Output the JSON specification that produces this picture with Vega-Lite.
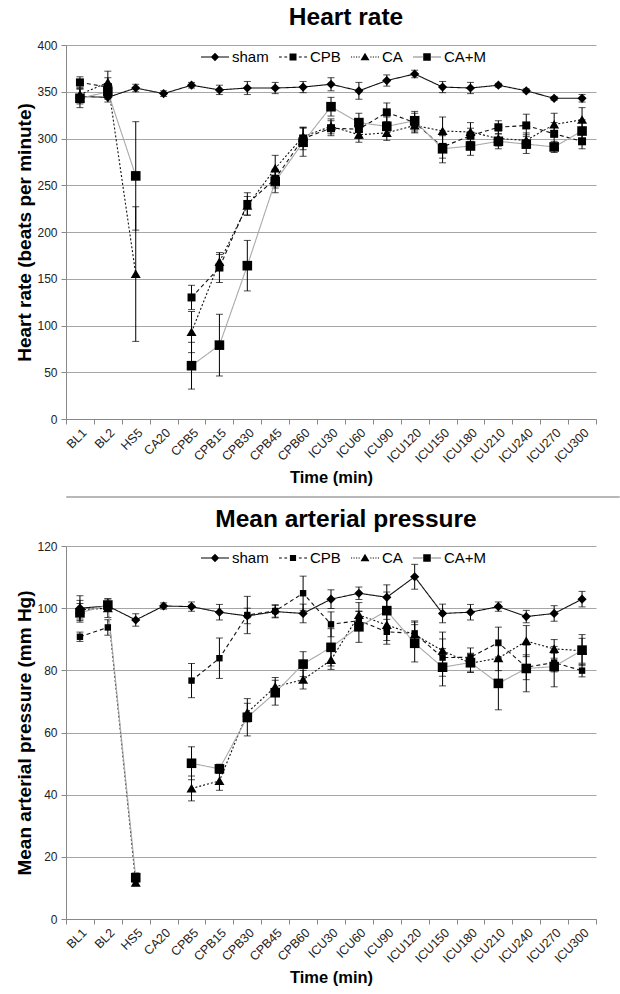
{
  "$schema": "https://vega.github.io/schema/vega-lite/v6.json",
  "background": "white",
  "padding": {"left": 15, "top": 4, "right": 0, "bottom": 0},
  "config": {
    "font": "Liberation Sans",
    "view": {"stroke": null},
    "axis": {"labelFont": "Liberation Sans", "titleFont": "Liberation Sans"},
    "legend": {"labelFont": "Liberation Sans"},
    "title": {"font": "Liberation Sans"}
  },
  "datasets": {
    "d": [
      {"p":"HR","s":"sham","g":"1","t":"BL1","v":345,"e":8},
      {"p":"HR","s":"sham","g":"1","t":"BL2","v":344,"e":5},
      {"p":"HR","s":"sham","g":"1","t":"HS5","v":354,"e":4},
      {"p":"HR","s":"sham","g":"1","t":"CA20","v":348,"e":3},
      {"p":"HR","s":"sham","g":"1","t":"CPB5","v":357,"e":3},
      {"p":"HR","s":"sham","g":"1","t":"CPB15","v":352,"e":5},
      {"p":"HR","s":"sham","g":"1","t":"CPB30","v":354,"e":7},
      {"p":"HR","s":"sham","g":"1","t":"CPB45","v":354,"e":6},
      {"p":"HR","s":"sham","g":"1","t":"CPB60","v":355,"e":6},
      {"p":"HR","s":"sham","g":"1","t":"ICU30","v":358,"e":7},
      {"p":"HR","s":"sham","g":"1","t":"ICU60","v":351,"e":9},
      {"p":"HR","s":"sham","g":"1","t":"ICU90","v":362,"e":6},
      {"p":"HR","s":"sham","g":"1","t":"ICU120","v":369,"e":4},
      {"p":"HR","s":"sham","g":"1","t":"ICU150","v":355,"e":6},
      {"p":"HR","s":"sham","g":"1","t":"ICU180","v":354,"e":6},
      {"p":"HR","s":"sham","g":"1","t":"ICU210","v":357,"e":2},
      {"p":"HR","s":"sham","g":"1","t":"ICU240","v":351,"e":2},
      {"p":"HR","s":"sham","g":"1","t":"ICU270","v":343,"e":2},
      {"p":"HR","s":"sham","g":"1","t":"ICU300","v":343,"e":4},

      {"p":"HR","s":"CPB","g":"1","t":"BL1","v":360,"e":6},
      {"p":"HR","s":"CPB","g":"1","t":"BL2","v":355,"e":10},
      {"p":"HR","s":"CPB","g":"2","t":"CPB5","v":130,"e":13},
      {"p":"HR","s":"CPB","g":"2","t":"CPB15","v":162,"e":16},
      {"p":"HR","s":"CPB","g":"2","t":"CPB30","v":230,"e":12},
      {"p":"HR","s":"CPB","g":"2","t":"CPB45","v":257,"e":10},
      {"p":"HR","s":"CPB","g":"2","t":"CPB60","v":300,"e":12},
      {"p":"HR","s":"CPB","g":"2","t":"ICU30","v":311,"e":8},
      {"p":"HR","s":"CPB","g":"2","t":"ICU60","v":310,"e":10},
      {"p":"HR","s":"CPB","g":"2","t":"ICU90","v":328,"e":10},
      {"p":"HR","s":"CPB","g":"2","t":"ICU120","v":317,"e":10},
      {"p":"HR","s":"CPB","g":"2","t":"ICU150","v":291,"e":12},
      {"p":"HR","s":"CPB","g":"2","t":"ICU180","v":303,"e":8},
      {"p":"HR","s":"CPB","g":"2","t":"ICU210","v":312,"e":7},
      {"p":"HR","s":"CPB","g":"2","t":"ICU240","v":314,"e":12},
      {"p":"HR","s":"CPB","g":"2","t":"ICU270","v":305,"e":12},
      {"p":"HR","s":"CPB","g":"2","t":"ICU300","v":297,"e":8},

      {"p":"HR","s":"CA","g":"1","t":"BL1","v":347,"e":8},
      {"p":"HR","s":"CA","g":"1","t":"BL2","v":360,"e":12},
      {"p":"HR","s":"CA","g":"1","t":"HS5","v":155,"e":72},
      {"p":"HR","s":"CA","g":"2","t":"CPB5","v":93,"e":22},
      {"p":"HR","s":"CA","g":"2","t":"CPB15","v":168,"e":8},
      {"p":"HR","s":"CA","g":"2","t":"CPB30","v":228,"e":10},
      {"p":"HR","s":"CA","g":"2","t":"CPB45","v":268,"e":14},
      {"p":"HR","s":"CA","g":"2","t":"CPB60","v":302,"e":10},
      {"p":"HR","s":"CA","g":"2","t":"ICU30","v":313,"e":8},
      {"p":"HR","s":"CA","g":"2","t":"ICU60","v":304,"e":8},
      {"p":"HR","s":"CA","g":"2","t":"ICU90","v":306,"e":8},
      {"p":"HR","s":"CA","g":"2","t":"ICU120","v":314,"e":8},
      {"p":"HR","s":"CA","g":"2","t":"ICU150","v":308,"e":15},
      {"p":"HR","s":"CA","g":"2","t":"ICU180","v":307,"e":10},
      {"p":"HR","s":"CA","g":"2","t":"ICU210","v":300,"e":8},
      {"p":"HR","s":"CA","g":"2","t":"ICU240","v":298,"e":8},
      {"p":"HR","s":"CA","g":"2","t":"ICU270","v":315,"e":12},
      {"p":"HR","s":"CA","g":"2","t":"ICU300","v":320,"e":13},

      {"p":"HR","s":"CA+M","g":"1","t":"BL1","v":343,"e":10},
      {"p":"HR","s":"CA+M","g":"1","t":"BL2","v":350,"e":8},
      {"p":"HR","s":"CA+M","g":"1","t":"HS5","v":260,"e":58},
      {"p":"HR","s":"CA+M","g":"2","t":"CPB5","v":57,"e":25},
      {"p":"HR","s":"CA+M","g":"2","t":"CPB15","v":79,"e":33},
      {"p":"HR","s":"CA+M","g":"2","t":"CPB30","v":164,"e":27},
      {"p":"HR","s":"CA+M","g":"2","t":"CPB45","v":254,"e":12},
      {"p":"HR","s":"CA+M","g":"2","t":"CPB60","v":296,"e":15},
      {"p":"HR","s":"CA+M","g":"2","t":"ICU30","v":334,"e":10},
      {"p":"HR","s":"CA+M","g":"2","t":"ICU60","v":317,"e":10},
      {"p":"HR","s":"CA+M","g":"2","t":"ICU90","v":313,"e":10},
      {"p":"HR","s":"CA+M","g":"2","t":"ICU120","v":319,"e":10},
      {"p":"HR","s":"CA+M","g":"2","t":"ICU150","v":289,"e":15},
      {"p":"HR","s":"CA+M","g":"2","t":"ICU180","v":292,"e":10},
      {"p":"HR","s":"CA+M","g":"2","t":"ICU210","v":297,"e":8},
      {"p":"HR","s":"CA+M","g":"2","t":"ICU240","v":294,"e":10},
      {"p":"HR","s":"CA+M","g":"2","t":"ICU270","v":291,"e":6},
      {"p":"HR","s":"CA+M","g":"2","t":"ICU300","v":308,"e":12},

      {"p":"MAP","s":"sham","g":"1","t":"BL1","v":100,"e":4},
      {"p":"MAP","s":"sham","g":"1","t":"BL2","v":100.7,"e":1.5},
      {"p":"MAP","s":"sham","g":"1","t":"HS5","v":96.2,"e":2},
      {"p":"MAP","s":"sham","g":"1","t":"CA20","v":100.7,"e":1},
      {"p":"MAP","s":"sham","g":"1","t":"CPB5","v":100.5,"e":1.5},
      {"p":"MAP","s":"sham","g":"1","t":"CPB15","v":98.7,"e":2.5},
      {"p":"MAP","s":"sham","g":"1","t":"CPB30","v":97.5,"e":2.5},
      {"p":"MAP","s":"sham","g":"1","t":"CPB45","v":98.9,"e":2},
      {"p":"MAP","s":"sham","g":"1","t":"CPB60","v":98.3,"e":3},
      {"p":"MAP","s":"sham","g":"1","t":"ICU30","v":102.9,"e":3},
      {"p":"MAP","s":"sham","g":"1","t":"ICU60","v":104.8,"e":2},
      {"p":"MAP","s":"sham","g":"1","t":"ICU90","v":103.5,"e":4},
      {"p":"MAP","s":"sham","g":"1","t":"ICU120","v":110.1,"e":4},
      {"p":"MAP","s":"sham","g":"1","t":"ICU150","v":98.3,"e":3},
      {"p":"MAP","s":"sham","g":"1","t":"ICU180","v":98.7,"e":2.5},
      {"p":"MAP","s":"sham","g":"1","t":"ICU210","v":100.5,"e":1.5},
      {"p":"MAP","s":"sham","g":"1","t":"ICU240","v":97.3,"e":2},
      {"p":"MAP","s":"sham","g":"1","t":"ICU270","v":98.3,"e":2.5},
      {"p":"MAP","s":"sham","g":"1","t":"ICU300","v":102.9,"e":2.5},

      {"p":"MAP","s":"CPB","g":"1","t":"BL1","v":90.8,"e":1.5},
      {"p":"MAP","s":"CPB","g":"1","t":"BL2","v":93.8,"e":2.5},
      {"p":"MAP","s":"CPB","g":"2","t":"CPB5","v":76.7,"e":5.5},
      {"p":"MAP","s":"CPB","g":"2","t":"CPB15","v":83.9,"e":6.5},
      {"p":"MAP","s":"CPB","g":"2","t":"CPB30","v":97.8,"e":6},
      {"p":"MAP","s":"CPB","g":"2","t":"CPB45","v":99.1,"e":2},
      {"p":"MAP","s":"CPB","g":"2","t":"CPB60","v":104.8,"e":5.5},
      {"p":"MAP","s":"CPB","g":"2","t":"ICU30","v":94.8,"e":4},
      {"p":"MAP","s":"CPB","g":"2","t":"ICU60","v":96,"e":3},
      {"p":"MAP","s":"CPB","g":"2","t":"ICU90","v":92.4,"e":4},
      {"p":"MAP","s":"CPB","g":"2","t":"ICU120","v":91.9,"e":4},
      {"p":"MAP","s":"CPB","g":"2","t":"ICU150","v":84.1,"e":6},
      {"p":"MAP","s":"CPB","g":"2","t":"ICU180","v":84.2,"e":3},
      {"p":"MAP","s":"CPB","g":"2","t":"ICU210","v":88.9,"e":5},
      {"p":"MAP","s":"CPB","g":"2","t":"ICU240","v":81,"e":4},
      {"p":"MAP","s":"CPB","g":"2","t":"ICU270","v":82.5,"e":3},
      {"p":"MAP","s":"CPB","g":"2","t":"ICU300","v":79.9,"e":2},

      {"p":"MAP","s":"CA","g":"1","t":"BL1","v":99.5,"e":3},
      {"p":"MAP","s":"CA","g":"1","t":"BL2","v":100,"e":3},
      {"p":"MAP","s":"CA","g":"1","t":"HS5","v":11.7,"e":1},
      {"p":"MAP","s":"CA","g":"2","t":"CPB5","v":42,"e":4},
      {"p":"MAP","s":"CA","g":"2","t":"CPB15","v":44.4,"e":3},
      {"p":"MAP","s":"CA","g":"2","t":"CPB30","v":66.4,"e":3},
      {"p":"MAP","s":"CA","g":"2","t":"CPB45","v":74.7,"e":3},
      {"p":"MAP","s":"CA","g":"2","t":"CPB60","v":77,"e":3},
      {"p":"MAP","s":"CA","g":"2","t":"ICU30","v":83.3,"e":3},
      {"p":"MAP","s":"CA","g":"2","t":"ICU60","v":97.8,"e":4},
      {"p":"MAP","s":"CA","g":"2","t":"ICU90","v":94.6,"e":5},
      {"p":"MAP","s":"CA","g":"2","t":"ICU120","v":91.5,"e":4},
      {"p":"MAP","s":"CA","g":"2","t":"ICU150","v":86.3,"e":6},
      {"p":"MAP","s":"CA","g":"2","t":"ICU180","v":82.3,"e":3},
      {"p":"MAP","s":"CA","g":"2","t":"ICU210","v":83.9,"e":4},
      {"p":"MAP","s":"CA","g":"2","t":"ICU240","v":89.4,"e":5},
      {"p":"MAP","s":"CA","g":"2","t":"ICU270","v":86.9,"e":3},
      {"p":"MAP","s":"CA","g":"2","t":"ICU300","v":86.3,"e":4},

      {"p":"MAP","s":"CA+M","g":"1","t":"BL1","v":98.5,"e":3},
      {"p":"MAP","s":"CA+M","g":"1","t":"BL2","v":101,"e":2},
      {"p":"MAP","s":"CA+M","g":"1","t":"HS5","v":13.3,"e":1.5},
      {"p":"MAP","s":"CA+M","g":"2","t":"CPB5","v":50.1,"e":5.3},
      {"p":"MAP","s":"CA+M","g":"2","t":"CPB15","v":48.3,"e":1.5},
      {"p":"MAP","s":"CA+M","g":"2","t":"CPB30","v":64.9,"e":6},
      {"p":"MAP","s":"CA+M","g":"2","t":"CPB45","v":72.8,"e":4},
      {"p":"MAP","s":"CA+M","g":"2","t":"CPB60","v":82,"e":4},
      {"p":"MAP","s":"CA+M","g":"2","t":"ICU30","v":87.4,"e":6},
      {"p":"MAP","s":"CA+M","g":"2","t":"ICU60","v":94,"e":5},
      {"p":"MAP","s":"CA+M","g":"2","t":"ICU90","v":99.2,"e":6},
      {"p":"MAP","s":"CA+M","g":"2","t":"ICU120","v":88.7,"e":6},
      {"p":"MAP","s":"CA+M","g":"2","t":"ICU150","v":81,"e":6},
      {"p":"MAP","s":"CA+M","g":"2","t":"ICU180","v":82.5,"e":3},
      {"p":"MAP","s":"CA+M","g":"2","t":"ICU210","v":75.8,"e":8.5},
      {"p":"MAP","s":"CA+M","g":"2","t":"ICU240","v":80.6,"e":7.5},
      {"p":"MAP","s":"CA+M","g":"2","t":"ICU270","v":81.2,"e":6.5},
      {"p":"MAP","s":"CA+M","g":"2","t":"ICU300","v":86.5,"e":5}
    ]
  },
  "columns": 1,
  "spacing": 6,
  "resolve": {"scale": {"shape": "independent", "color": "independent", "strokeDash": "independent"}, "legend": {"shape": "independent"}},
  "concat": [
    {
      "width": 530,
      "height": 374,
      "data": {"name": "d"},
      "transform": [{"filter": "datum.p === 'HR'"}],
      "title": {"text": "Heart rate", "fontSize": 24.5, "fontWeight": "bold", "color": "black", "dx": 15, "offset": 9},
      "encoding": {
        "x": {"field": "t", "type": "nominal",
          "sort": ["BL1","BL2","HS5","CA20","CPB5","CPB15","CPB30","CPB45","CPB60","ICU30","ICU60","ICU90","ICU120","ICU150","ICU180","ICU210","ICU240","ICU270","ICU300"],
          "scale": {"type": "band", "paddingInner": 0, "paddingOuter": 0},
          "axis": {"title": "Time (min)", "titleFontSize": 16.5, "titleFontWeight": "bold", "titleColor": "black", "titlePadding": 5, "labelAngle": -45, "labelFontSize": 12.5, "labelColor": "#222222", "tickBand": "extent", "tickSize": 5, "tickColor": "#888888", "domainColor": "#888888", "labelPadding": 2, "grid": false}},
        "y": {"field": "v", "type": "quantitative",
          "scale": {"domain": [0, 400]},
          "axis": {"title": "Heart rate (beats per minute)", "values": [0,50,100,150,200,250,300,350,400], "titleFontSize": 19, "titleFontWeight": "bold", "titleColor": "black", "titlePadding": 2, "labelFontSize": 12, "labelColor": "#222222", "labelPadding": 4, "tickSize": 5, "tickColor": "#888888", "domainColor": "#888888", "gridColor": "#a6a6a6"}}
      },
      "resolve": {"scale": {"shape": "independent"}, "legend": {"shape": "independent"}},
      "layer": [
        {"mark": {"type": "errorbar", "ticks": {"size": 7, "thickness": 1, "color": "black"}, "rule": {"color": "black", "strokeWidth": 1}},
         "encoding": {"yError": {"field": "e"}}},
        {"mark": {"type": "line", "strokeWidth": 1.1},
         "encoding": {
           "detail": {"field": "g"},
           "color": {"field": "s", "type": "nominal", "scale": {"domain": ["sham","CPB","CA","CA+M"], "range": ["#111111","#111111","#111111","#aaaaaa"]}, "legend": null},
           "strokeDash": {"field": "s", "type": "nominal", "scale": {"domain": ["sham","CPB","CA","CA+M"], "range": [[1,0],[4,3],[2,2],[1,0]]}, "legend": null}}},
        {"mark": {"type": "point", "filled": true, "opacity": 1, "size": 64, "color": "black", "strokeWidth": 0},
         "encoding": {
           "shape": {"field": "s", "type": "nominal",
             "scale": {"domain": ["sham","CPB","CA","CA+M"], "range": ["M0,-1.15L1.15,0L0,1.15L-1.15,0Z", "M-1,-1H1V1H-1Z", "M0,-1.15L1.25,1L-1.25,1Z", "M-1.2,-1.2H1.2V1.2H-1.2Z"]},
             "legend": null}}},
        {"transform": [{"filter": "datum.t === 'BL1'"}],
         "mark": {"type": "point", "filled": true, "color": "black", "opacity": 0, "size": 784, "strokeWidth": 0},
         "encoding": {
           "shape": {"field": "s", "type": "nominal",
             "scale": {"domain": ["sham","CPB","CA","CA+M"], "range": [
               "M-1,-0.04H1V0.04H-1ZM0,-0.3L0.3,0L0,0.3L-0.3,0Z",
               "M-1,-0.04H-0.8V0.04H-1ZM-0.62,-0.04H-0.42V0.04H-0.62ZM0.42,-0.04H0.62V0.04H0.42ZM0.8,-0.04H1V0.04H0.8ZM-0.25,-0.25H0.25V0.25H-0.25Z",
               "M-1,-0.04H-0.92V0.04H-1ZM-0.82,-0.04H-0.74V0.04H-0.82ZM-0.64,-0.04H-0.56V0.04H-0.64ZM-0.46,-0.04H-0.38V0.04H-0.46ZM0.38,-0.04H0.46V0.04H0.38ZM0.56,-0.04H0.64V0.04H0.56ZM0.74,-0.04H0.82V0.04H0.74ZM0.92,-0.04H1V0.04H0.92ZM0,-0.3L0.32,0.24L-0.32,0.24Z",
               "M-1,-0.022H-0.3V0.022H-1ZM0.3,-0.022H1V0.022H0.3ZM-0.27,-0.27H0.27V0.27H-0.27Z"]},
             "legend": {"title": null, "orient": "none", "direction": "horizontal", "legendX": 135, "legendY": -2, "symbolSize": 784, "symbolOpacity": 1, "symbolStrokeWidth": 0, "symbolFillColor": "black", "labelFontSize": 15, "labelColor": "black", "labelOffset": 3, "columnPadding": 10, "padding": 0}}}}
      ]
    },
    {
      "width": 553,
      "height": 1,
      "data": {"values": [{"a": 1}]},
      "mark": {"type": "point", "opacity": 0},
      "encoding": {},
      "view": {"stroke": "#b8b8b8", "strokeWidth": 1}
    },
    {
      "width": 530,
      "height": 373,
      "data": {"name": "d"},
      "transform": [{"filter": "datum.p === 'MAP'"}],
      "title": {"text": "Mean arterial pressure", "fontSize": 24.5, "fontWeight": "bold", "color": "black", "dx": 15, "offset": 8},
      "encoding": {
        "x": {"field": "t", "type": "nominal",
          "sort": ["BL1","BL2","HS5","CA20","CPB5","CPB15","CPB30","CPB45","CPB60","ICU30","ICU60","ICU90","ICU120","ICU150","ICU180","ICU210","ICU240","ICU270","ICU300"],
          "scale": {"type": "band", "paddingInner": 0, "paddingOuter": 0},
          "axis": {"title": "Time (min)", "titleFontSize": 16.5, "titleFontWeight": "bold", "titleColor": "black", "titlePadding": 5, "labelAngle": -45, "labelFontSize": 12.5, "labelColor": "#222222", "tickBand": "extent", "tickSize": 5, "tickColor": "#888888", "domainColor": "#888888", "labelPadding": 2, "grid": false}},
        "y": {"field": "v", "type": "quantitative",
          "scale": {"domain": [0, 120]},
          "axis": {"title": "Mean arterial pressure (mm Hg)", "values": [0,20,40,60,80,100,120], "titleFontSize": 19, "titleFontWeight": "bold", "titleColor": "black", "titlePadding": 2, "labelFontSize": 12, "labelColor": "#222222", "labelPadding": 4, "tickSize": 5, "tickColor": "#888888", "domainColor": "#888888", "gridColor": "#a6a6a6"}}
      },
      "resolve": {"scale": {"shape": "independent"}, "legend": {"shape": "independent"}},
      "layer": [
        {"mark": {"type": "errorbar", "ticks": {"size": 7, "thickness": 1, "color": "black"}, "rule": {"color": "black", "strokeWidth": 1}},
         "encoding": {"yError": {"field": "e"}}},
        {"mark": {"type": "line", "strokeWidth": 1.1},
         "encoding": {
           "detail": {"field": "g"},
           "color": {"field": "s", "type": "nominal", "scale": {"domain": ["sham","CPB","CA","CA+M"], "range": ["#111111","#111111","#111111","#aaaaaa"]}, "legend": null},
           "strokeDash": {"field": "s", "type": "nominal", "scale": {"domain": ["sham","CPB","CA","CA+M"], "range": [[1,0],[4,3],[2,2],[1,0]]}, "legend": null}}},
        {"mark": {"type": "point", "filled": true, "opacity": 1, "size": 64, "color": "black", "strokeWidth": 0},
         "encoding": {
           "shape": {"field": "s", "type": "nominal",
             "scale": {"domain": ["sham","CPB","CA","CA+M"], "range": ["M0,-1.15L1.15,0L0,1.15L-1.15,0Z", "M-0.8,-0.8H0.8V0.8H-0.8Z", "M0,-1.15L1.25,1L-1.25,1Z", "M-1.2,-1.2H1.2V1.2H-1.2Z"]},
             "legend": null}}},
        {"transform": [{"filter": "datum.t === 'BL1'"}],
         "mark": {"type": "point", "filled": true, "color": "black", "opacity": 0, "size": 784, "strokeWidth": 0},
         "encoding": {
           "shape": {"field": "s", "type": "nominal",
             "scale": {"domain": ["sham","CPB","CA","CA+M"], "range": [
               "M-1,-0.04H1V0.04H-1ZM0,-0.3L0.3,0L0,0.3L-0.3,0Z",
               "M-1,-0.04H-0.8V0.04H-1ZM-0.62,-0.04H-0.42V0.04H-0.62ZM0.42,-0.04H0.62V0.04H0.42ZM0.8,-0.04H1V0.04H0.8ZM-0.22,-0.22H0.22V0.22H-0.22Z",
               "M-1,-0.04H-0.92V0.04H-1ZM-0.82,-0.04H-0.74V0.04H-0.82ZM-0.64,-0.04H-0.56V0.04H-0.64ZM-0.46,-0.04H-0.38V0.04H-0.46ZM0.38,-0.04H0.46V0.04H0.38ZM0.56,-0.04H0.64V0.04H0.56ZM0.74,-0.04H0.82V0.04H0.74ZM0.92,-0.04H1V0.04H0.92ZM0,-0.3L0.32,0.24L-0.32,0.24Z",
               "M-1,-0.022H-0.3V0.022H-1ZM0.3,-0.022H1V0.022H0.3ZM-0.27,-0.27H0.27V0.27H-0.27Z"]},
             "legend": {"title": null, "orient": "none", "direction": "horizontal", "legendX": 135, "legendY": -2, "symbolSize": 784, "symbolOpacity": 1, "symbolStrokeWidth": 0, "symbolFillColor": "black", "labelFontSize": 15, "labelColor": "black", "labelOffset": 3, "columnPadding": 10, "padding": 0}}}}
      ]
    }
  ]
}
